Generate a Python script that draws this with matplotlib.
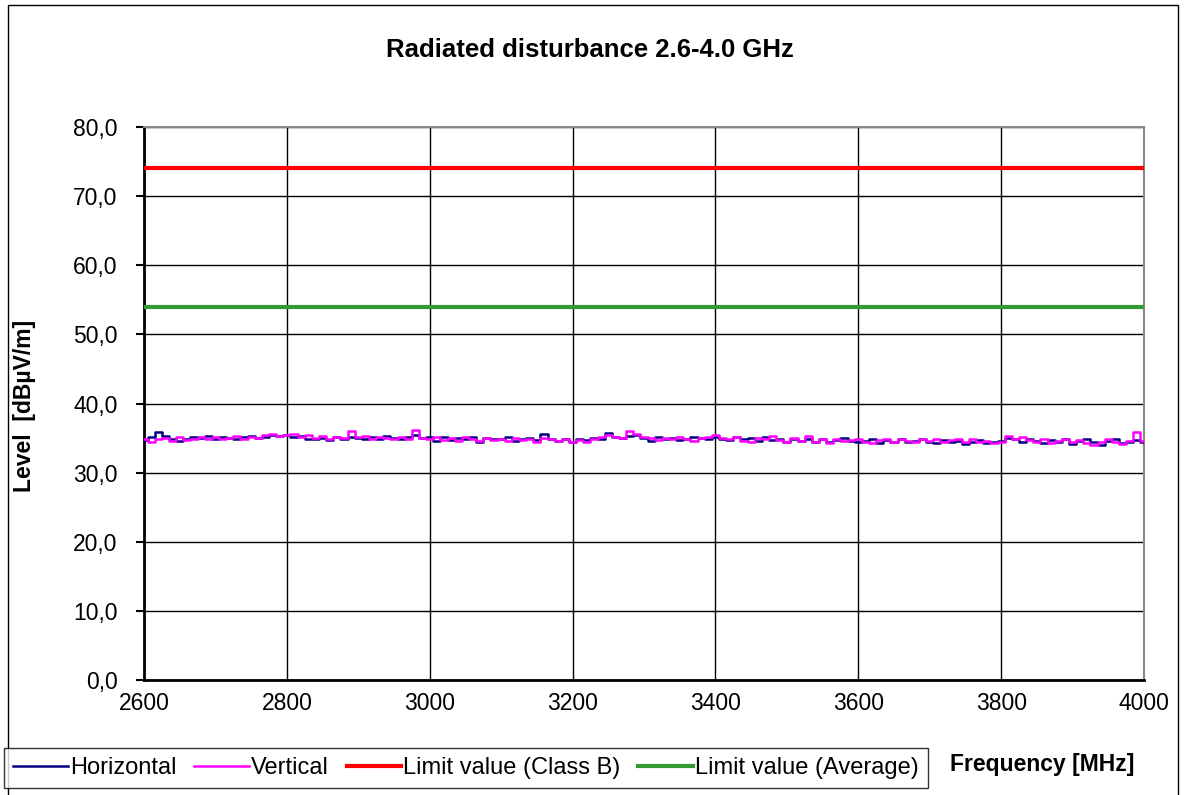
import matplotlib.pyplot as plt
from matplotlib.ticker import FuncFormatter
from matplotlib.patches import Rectangle

plt.rcParams['font.family'] = ['Liberation Sans', 'DejaVu Sans']

# frequency grid, 10 MHz steps
freq = list(range(2600, 4001, 10))

horizontal = [
    34.7, 35.1, 35.9, 35.3, 34.8, 34.6, 34.9, 35.1, 35.0, 35.3,
    34.9, 35.2, 35.0, 34.8, 35.1, 35.3, 35.0, 35.2, 35.4, 35.3,
    35.5, 35.2, 35.3, 34.9, 34.8, 35.0, 34.7, 35.1, 34.9, 35.2,
    35.0, 34.8, 35.1, 34.9, 35.3, 35.0, 34.8, 35.1, 35.4, 35.0,
    35.2, 34.6, 35.1, 34.7, 35.0, 34.9, 35.2, 34.5, 35.0, 34.8,
    34.9, 35.1, 34.6, 34.8, 35.0, 34.7, 35.6, 34.8, 34.6, 34.9,
    34.5, 34.8, 34.7, 35.0, 34.9, 35.7, 35.1, 35.0, 35.3, 35.4,
    35.0, 34.6, 35.1, 34.8, 35.0, 34.7, 34.9, 35.1, 35.0, 34.8,
    35.2, 34.9, 34.7, 35.1, 34.8, 35.0, 34.6, 35.2, 34.7, 34.9,
    34.5, 34.8, 34.6, 34.9, 34.4, 34.8, 34.5, 34.7, 35.0, 34.6,
    34.4, 34.6, 34.8, 34.3, 34.7, 34.5, 34.9, 34.4, 34.6, 34.8,
    34.5, 34.3, 34.7, 34.4, 34.6, 34.2, 34.5, 34.7, 34.3, 34.4,
    34.6, 35.0, 34.8, 34.5, 34.9, 34.6, 34.3, 34.7, 34.4, 34.8,
    34.2, 34.6, 34.9, 34.4, 34.0, 34.6, 34.8, 34.3, 34.5, 34.7,
    34.4,
]

vertical = [
    34.9, 34.5, 34.8, 35.0, 34.6, 35.1, 34.7, 34.9, 35.2, 34.8,
    35.1, 34.8, 35.0, 35.3, 34.9, 35.2, 35.0, 35.4, 35.6, 35.3,
    35.4, 35.6, 35.2, 35.5, 35.0, 35.3, 34.9, 35.2, 35.0, 36.0,
    35.1, 35.3, 34.9, 35.2, 35.0, 34.8, 35.1, 34.9, 36.1, 35.0,
    34.8, 35.1, 34.7, 35.0, 34.6, 35.2, 34.9, 34.6, 35.0, 34.7,
    34.9, 34.6, 35.0, 34.7, 34.9, 34.5, 35.0, 34.8, 34.6, 34.9,
    34.4, 34.7, 34.5, 34.9, 35.1, 35.4, 35.2, 35.0, 36.0, 35.6,
    35.2, 35.0, 34.7, 35.0, 34.8, 35.1, 34.9, 34.6, 35.0, 35.2,
    35.4, 35.0, 34.8, 35.1, 34.6, 34.4, 35.0, 34.8, 35.3, 34.7,
    34.4, 35.0, 34.6, 35.3, 34.5, 34.8, 34.3, 34.9, 34.6, 34.7,
    34.9, 34.5, 34.3, 34.7, 34.9, 34.5, 34.8, 34.6, 34.4, 34.9,
    34.6, 34.8, 34.4, 34.7, 34.9, 34.5, 34.8, 34.4, 34.6, 34.3,
    34.5, 35.3, 34.9, 35.2, 34.7, 34.5, 34.9, 34.3, 34.6, 34.8,
    34.5, 34.7, 34.3, 34.0, 34.5, 34.8, 34.4, 34.2, 34.6, 35.9,
    34.6,
]

limit_class_b = 74.0
limit_average = 54.0

fig = plt.figure(figsize=(11.86, 7.95), dpi=100)
ax = fig.add_axes([144 / 1186, 115 / 795, 1000 / 1186, 553 / 795])

ax.plot(freq, horizontal, color='#000080', lw=1.8, drawstyle='steps-mid',
        label='Horizontal', zorder=3)
ax.plot(freq, vertical, color='#FF00FF', lw=1.8, drawstyle='steps-mid',
        label='Vertical', zorder=3)
ax.axhline(limit_class_b, color='#FF0000', lw=3, label='Limit value (Class B)', zorder=3)
ax.axhline(limit_average, color='#339933', lw=3, label='Limit value (Average)', zorder=3)

ax.set_xlim(2600, 4000)
ax.set_ylim(0, 80)
ax.set_xticks(range(2600, 4001, 200))
ax.set_yticks(range(0, 81, 10))
ax.yaxis.set_major_formatter(FuncFormatter(lambda v, p: f"{v:.1f}".replace('.', ',')))
ax.grid(True, color='black', lw=1)
ax.tick_params(axis='y', direction='out', length=6, width=1.5, labelsize=16.5, pad=13)
ax.tick_params(axis='x', length=0, labelsize=16.5, pad=9)

for side in ('left', 'bottom'):
    ax.spines[side].set_linewidth(2)
    ax.spines[side].set_color('black')
for side in ('top', 'right'):
    ax.spines[side].set_color('#888888')
    ax.spines[side].set_linewidth(1.5)

fig.text(0.497, 1 - 50 / 795, 'Radiated disturbance 2.6-4.0 GHz',
         ha='center', va='center', fontsize=18.5, fontweight='bold')
fig.text(25 / 1186, 1 - 406 / 795, 'Level  [dBµV/m]', rotation=90,
         ha='center', va='center', fontsize=16.5, fontweight='bold')
fig.text(1042 / 1186, 1 - 765 / 795, 'Frequency [MHz]',
         ha='center', va='center', fontsize=16.5, fontweight='bold')

# outer chart border
fig.patches.append(Rectangle((8 / 1186, -0.01), 1170 / 1186, 1.01 - 5 / 795,
                             transform=fig.transFigure, fill=False,
                             edgecolor='black', lw=1))

leg = fig.legend(loc='center left', bbox_to_anchor=(4 / 1186, 1 - 768 / 795),
                 ncol=4, fontsize=17, frameon=True, fancybox=False,
                 handlelength=2.3, handletextpad=0.1, columnspacing=0.75,
                 borderpad=0.4, borderaxespad=0)
leg.get_frame().set_edgecolor('black')
leg.get_frame().set_linewidth(1)

fig.savefig('out.png', dpi=100)
